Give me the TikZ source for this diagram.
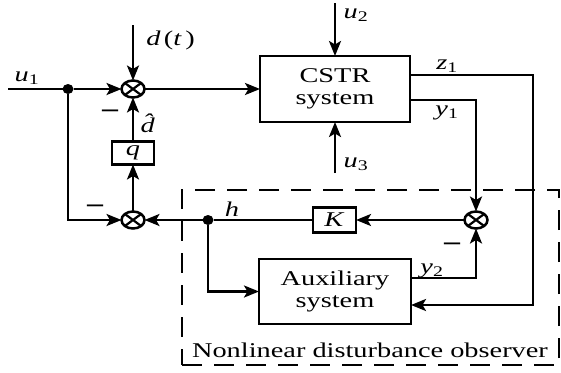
\documentclass[tikz,border=0pt]{standalone}
\usepackage{fontspec}
\setmainfont[FakeStretch=1.35]{Liberation Serif}
\usetikzlibrary{arrows.meta,shapes.geometric}
\begin{document}
\begin{tikzpicture}[x=1pt,y=-1pt,line width=2.5pt,
  every node/.style={font=\fontsize{21}{22}\selectfont},
  arr/.style={-{Stealth[length=15pt,width=12pt,inset=3.5pt]}},
  blk/.style={draw,line width=2.8pt,inner sep=0pt,outer sep=0pt,align=center},
  sumnode/.style={ellipse,draw,line width=2.5pt,minimum width=23pt,minimum height=17pt,inner sep=0pt,outer sep=0pt,
    path picture={\draw[line width=2.2pt] (path picture bounding box.north west) -- (path picture bounding box.south east)
      (path picture bounding box.north east) -- (path picture bounding box.south west);}},
  dotnode/.style={ellipse,fill,minimum width=11pt,minimum height=10pt,inner sep=0pt,outer sep=0pt},
  lab/.style={inner sep=0pt},
  minus/.style={inner sep=0pt,anchor=base,font=\fontsize{26}{26}\selectfont\bfseries},
  frame/.style={draw,line width=2.6pt,dash pattern=on 20pt off 12pt,inner sep=0pt,outer sep=0pt}
]
\useasboundingbox (0,0) rectangle (561,372);
% frame
\node[frame,minimum width=377pt,minimum height=175pt] (ndo) at (370.5,277.5) {};
% nodes
\node[sumnode] (s1) at (133,89) {};
\node[sumnode] (s2) at (133,220) {};
\node[sumnode] (s3) at (476,220) {};
\node[dotnode] (d1) at (68,89) {};
\node[dotnode] (dh) at (208,220) {};
\node[blk,minimum width=150pt,minimum height=66pt] (cstr) at (335,89) {CSTR\\system};
\node[blk,minimum width=42pt,minimum height=23pt] (q) at (133,153) {\textit{q}};
\node[blk,minimum width=43pt,minimum height=25pt] (K) at (334.5,220) {\textit{K}};
\node[blk,minimum width=152pt,minimum height=65pt] (aux) at (335,291.5) {Auxiliary\\system};
% free ends and corners
\coordinate (u1in) at (8,89);
\coordinate (dtin) at (133,25);
\coordinate (u2in) at (335,3);
\coordinate (u3in) at (335,173);
\coordinate (zc) at (533,200);
% connectors
\draw (u1in) -- (d1);
\draw[arr] (d1) -- (s1);
\draw[arr] (dtin) -- (s1);
\draw[arr] (s1) -- (cstr);
\draw[arr] (u2in) -- (cstr);
\draw[arr] (u3in) -- (cstr);
\draw[arr] ([yshift=14pt]cstr.east) -| (zc) |- ([yshift=-13.5pt]aux.east);
\draw[arr] ([yshift=-11pt]cstr.east) -| (s3);
\draw[arr] (s3) -- (K);
\draw (K) -- (dh);
\draw[arr] (dh) -- (s2);
\draw[arr] (dh) |- (aux.west);
\draw[arr] ([yshift=13.5pt]aux.east) -| (s3);
\draw[arr] (d1) |- (s2);
\draw[arr] (s2) -- (q);
\draw[arr] (q) -- (s1);
% labels
\node[lab] at (27,78) {\textit{u}\textsubscript{1}};
\node[lab,anchor=west] at (145,40) {\textit{d}\,(\textit{t}\,)};
\node[lab] at (153,123) {\textit{d̂}};
\node[minus] at (110,119) {−};
\node[minus] at (95,214) {−};
\node[minus] at (452,252) {−};
\node[lab] at (232,209) {\textit{h}};
\node[lab] at (356,15) {\textit{u}\textsubscript{2}};
\node[lab] at (356,164) {\textit{u}\textsubscript{3}};
\node[lab] at (447,66) {\textit{z}\textsubscript{1}};
\node[lab] at (447,113) {\textit{y}\textsubscript{1}};
\node[lab] at (432,271) {\textit{y}\textsubscript{2}};
\node[lab] at (370,350) {Nonlinear disturbance observer};
\end{tikzpicture}
\end{document}
